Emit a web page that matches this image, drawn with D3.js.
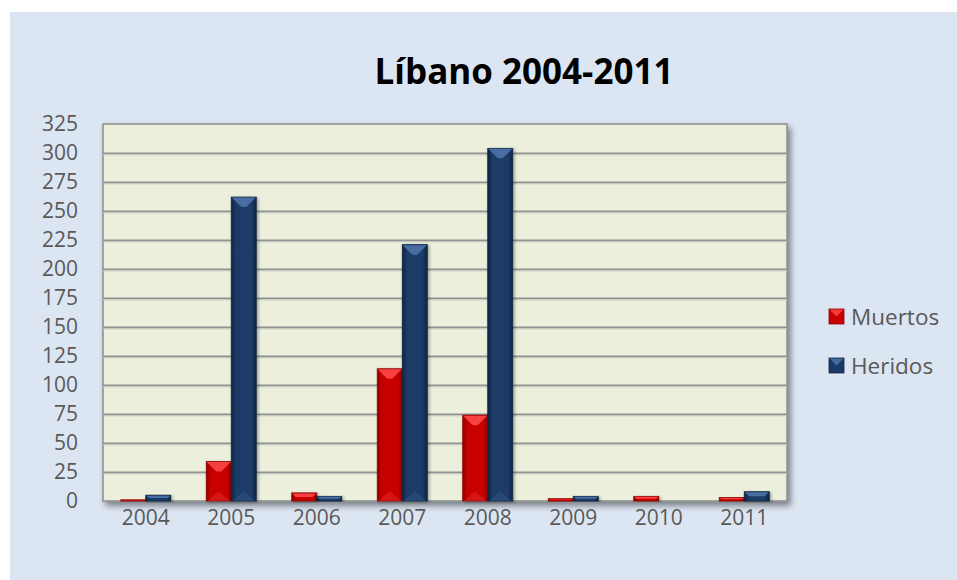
<!DOCTYPE html>
<html>
<head>
<meta charset="utf-8">
<script src="https://cdn.jsdelivr.net/npm/d3@7"></script>
<style>
  html, body { margin: 0; padding: 0; background: #fff; }
  svg { display: block; font-family: 'Open Sans', sans-serif; }
</style>
</head>
<body>
<svg id="chart" width="957" height="580"></svg>
<script>
// Data
const years = ['2004', '2005', '2006', '2007', '2008', '2009', '2010', '2011'];
const series = ['Muertos', 'Heridos'];
const muertos = [1, 34, 7, 114, 74, 2, 4, 3];
const heridos = [5, 262, 4, 221, 304, 4, 0, 8];
const yTicks = [0, 25, 50, 75, 100, 125, 150, 175, 200, 225, 250, 275, 300, 325];

// Layout
const W = 957;
const H = 580;
const plot = { left: 103, top: 124, right: 787, bottom: 501 };
const colors = {
  Muertos: { base: '#c80000', light: '#ff4a4a', dark: '#8e0000' },
  Heridos: { base: '#1b3a66', light: '#4f77ad', dark: '#10243f' },
};
const textColor = '#595959';

const svg = d3.select('#chart');
const defs = svg.append('defs');

// Drop shadow for the plot area and bars
const shadow = defs.append('filter').attr('id', 'shadow')
  .attr('x', '-10%').attr('y', '-10%').attr('width', '130%').attr('height', '130%');
shadow.append('feDropShadow')
  .attr('dx', 3).attr('dy', 4).attr('stdDeviation', 3)
  .attr('flood-color', '#000').attr('flood-opacity', 0.45);

const barShadow = defs.append('filter').attr('id', 'barShadow')
  .attr('x', '-30%').attr('y', '-10%').attr('width', '160%').attr('height', '130%');
barShadow.append('feDropShadow')
  .attr('dx', 1.5).attr('dy', 1).attr('stdDeviation', 1.5)
  .attr('flood-color', '#000').attr('flood-opacity', 0.35);

// Horizontal gradient for the bar bodies
series.forEach((s) => {
  const g = defs.append('linearGradient').attr('id', `grad-${s}`)
    .attr('x1', 0).attr('x2', 1).attr('y1', 0).attr('y2', 0);
  g.append('stop').attr('offset', '0%').attr('stop-color', colors[s].dark);
  g.append('stop').attr('offset', '18%').attr('stop-color', colors[s].base);
  g.append('stop').attr('offset', '82%').attr('stop-color', colors[s].base);
  g.append('stop').attr('offset', '100%').attr('stop-color', colors[s].dark);
});

// Background
svg.append('rect')
  .attr('x', 10).attr('y', 12)
  .attr('width', W - 10).attr('height', H - 12)
  .attr('fill', '#dce6f2');

// Title
svg.append('text')
  .attr('x', 524).attr('y', 84)
  .attr('text-anchor', 'middle')
  .attr('font-size', 35)
  .attr('font-weight', 700)
  .attr('fill', '#000')
  .text('Líbano 2004-2011');

// Scales
const x = d3.scaleBand().domain(years).range([plot.left, plot.right]).paddingInner(0).paddingOuter(0);
const x1 = d3.scaleBand().domain(series).range([0, 50]).padding(0);
const xOff = (x.bandwidth() - 50) / 2;
const y = d3.scaleLinear().domain([0, 325]).range([plot.bottom, plot.top]);

// Plot area
svg.append('rect')
  .attr('x', plot.left).attr('y', plot.top)
  .attr('width', plot.right - plot.left).attr('height', plot.bottom - plot.top)
  .attr('fill', '#ebefdc')
  .attr('stroke', '#8c8c8c')
  .attr('stroke-width', 1.5)
  .attr('filter', 'url(#shadow)');

// Gridlines
const yGrid = d3.axisLeft(y).tickValues(yTicks.slice(1, -1))
  .tickSize(-(plot.right - plot.left)).tickFormat('');
const grid = svg.append('g')
  .attr('transform', `translate(${plot.left},0)`)
  .call(yGrid);
grid.select('.domain').remove();
grid.selectAll('line').attr('stroke', '#929292').attr('stroke-width', 2);
grid.selectAll('line').clone()
  .attr('stroke', '#d3d6c6').attr('stroke-width', 1)
  .attr('transform', 'translate(0,1.5)');

// Y axis labels
const yAxis = d3.axisLeft(y).tickValues(yTicks).tickSize(0).tickPadding(0);
const ya = svg.append('g')
  .attr('transform', 'translate(78,0)')
  .call(yAxis);
ya.select('.domain').remove();
ya.selectAll('text')
  .attr('font-family', "'Open Sans', sans-serif")
  .attr('font-size', 21)
  .attr('fill', textColor);

// X axis labels
const xAxis = d3.axisBottom(x).tickSize(0).tickPadding(0);
const xa = svg.append('g')
  .attr('transform', 'translate(0,503)')
  .call(xAxis);
xa.select('.domain').remove();
xa.selectAll('text')
  .attr('font-family', "'Open Sans', sans-serif")
  .attr('font-size', 21)
  .attr('fill', textColor)
  .attr('dy', '1.05em');

// Bars
const rows = years.map((yr, i) => ({ year: yr, Muertos: muertos[i], Heridos: heridos[i] }));
const bars = [];
rows.forEach((r) => series.forEach((s) => bars.push({ year: r.year, series: s, value: r[s] })));

const barG = svg.append('g');
const bar = barG.selectAll('g.bar')
  .data(bars.filter((d) => d.value > 0))
  .join('g')
  .attr('class', 'bar')
  .attr('filter', 'url(#barShadow)');

bar.each(function (d) {
  const g = d3.select(this);
  const bx = x(d.year) + xOff + x1(d.series);
  const bw = x1.bandwidth();
  const by = y(d.value);
  const bh = y(0) - by;
  const c = colors[d.series];
  g.append('rect')
    .attr('x', bx).attr('y', by)
    .attr('width', bw).attr('height', bh)
    .attr('fill', `url(#grad-${d.series})`)
    .attr('stroke', c.dark).attr('stroke-width', 0.8);
  // bevel on top
  const b = Math.min(10, bh / 2);
  g.append('polygon')
    .attr('points', [
      [bx + 0.5, by + 0.5], [bx + bw - 0.5, by + 0.5],
      [bx + bw - b, by + b], [bx + b, by + b],
    ].map((p) => p.join(',')).join(' '))
    .attr('fill', c.light)
    .attr('opacity', 0.85);
  // faint bevel at bottom
  if (bh > 20) {
    g.append('polygon')
      .attr('points', [
        [bx + 1, y(0)], [bx + bw - 1, y(0)], [bx + bw / 2, y(0) - 10],
      ].map((p) => p.join(',')).join(' '))
      .attr('fill', c.light)
      .attr('opacity', 0.25);
  }
});

// Legend
const legend = svg.append('g').attr('transform', 'translate(829,309)');
const li = legend.selectAll('g').data(series).join('g')
  .attr('transform', (d, i) => `translate(0,${i * 49})`);
li.append('rect')
  .attr('width', 15).attr('height', 15)
  .attr('fill', (d) => colors[d].base)
  .attr('stroke', (d) => colors[d].dark).attr('stroke-width', 0.8);
li.append('polygon')
  .attr('points', '0.5,0.5 14.5,0.5 7.5,7.5')
  .attr('fill', (d) => colors[d].light).attr('opacity', 0.8);
li.append('text')
  .attr('x', 22).attr('y', 16)
  .attr('font-size', 22.5)
  .attr('fill', textColor)
  .text((d) => d);
</script>
</body>
</html>
